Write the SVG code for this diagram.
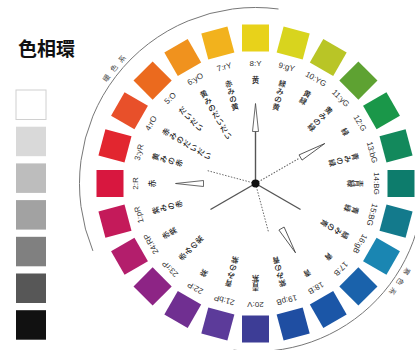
<svg xmlns="http://www.w3.org/2000/svg" width="415" height="350" viewBox="0 0 415 350">
<style>
.num{font-family:"Liberation Sans","Noto Sans",sans-serif;font-size:8px;fill:#333;text-anchor:middle}
.jp{font-family:"Noto Sans CJK JP",sans-serif;font-size:7.5px;font-weight:500;fill:#1a1a1a;text-anchor:middle}
.sys{font-family:"Noto Sans CJK JP",sans-serif;font-size:7px;fill:#444;text-anchor:middle;letter-spacing:5px}
.arc{fill:none;stroke:#777;stroke-width:1}
.needle{fill:#fff;stroke:#444;stroke-width:0.8}
.solid{stroke:#555;stroke-width:1.4}
.dot{stroke:#666;stroke-width:0.9;stroke-dasharray:1.5 1.5}
</style>
<defs>
<path id="warmPath" d="M78.2 152.3 A180 180 0 0 1 193.9 14.4"/>
<path id="coolPath" d="M427 198.5 A172 172 0 0 1 328.2 339.4"/>
<g id="needleShape"><polygon class="needle" points="252.5,131.5 258.5,131.5 255.5,103.5"/></g>
</defs>
<rect width="415" height="350" fill="#fff"/>
<text x="18" y="56" style="font-family:'Noto Sans CJK JP',sans-serif;font-size:19px;font-weight:bold;fill:#111">色相環</text>
<g id="grayscale">
<rect x="16" y="90" width="30" height="29.5" fill="#fff" stroke="#d0d0d0"/>
<rect x="16" y="126.7" width="30" height="29.5" fill="#d9d9d9"/>
<rect x="16" y="163.4" width="30" height="29.5" fill="#bdbdbd"/>
<rect x="16" y="200.1" width="30" height="29.5" fill="#a2a2a2"/>
<rect x="16" y="236.8" width="30" height="29.5" fill="#808080"/>
<rect x="16" y="273.5" width="30" height="29.5" fill="#575757"/>
<rect x="16" y="310.2" width="30" height="29.5" fill="#111"/>
</g>
<g id="arcs">
<path class="arc" d="M92.9 250.9 A176 176 0 0 1 278.5 9.0"/>
<path class="arc" d="M420.9 154.3 A168 168 0 0 1 233.6 350.1"/>
<text class="sys"><textPath href="#warmPath" startOffset="50%">暖色系</textPath></text>
<text class="sys"><textPath href="#coolPath" startOffset="50%">寒色系</textPath></text>
</g>
<g id="hue-1" transform="rotate(-105 255.5 183.5)"><rect x="242" y="24.5" width="27" height="27" fill="#c41a5a"/><text class="num" x="255.5" y="65.5">1:pR</text><text class="jp" x="255.5" y="83"><tspan x="255.5">紫</tspan><tspan x="255.5" dy="8">み</tspan><tspan x="255.5" dy="8">の</tspan><tspan x="255.5" dy="8">赤</tspan></text></g>
<g id="hue-2" transform="rotate(-90 255.5 183.5)"><rect x="242" y="24.5" width="27" height="27" fill="#d8173f"/><text class="num" x="255.5" y="65.5">2:R</text><text class="jp" x="255.5" y="83"><tspan x="255.5">赤</tspan></text></g>
<g id="hue-3" transform="rotate(-75 255.5 183.5)"><rect x="242" y="24.5" width="27" height="27" fill="#e2262f"/><text class="num" x="255.5" y="65.5">3:yR</text><text class="jp" x="255.5" y="83"><tspan x="255.5">黄</tspan><tspan x="255.5" dy="8">み</tspan><tspan x="255.5" dy="8">の</tspan><tspan x="255.5" dy="8">赤</tspan></text></g>
<g id="hue-4" transform="rotate(-60 255.5 183.5)"><rect x="242" y="24.5" width="27" height="27" fill="#e8502a"/><text class="num" x="255.5" y="65.5">4:rO</text><text class="jp" x="255.5" y="83"><tspan x="255.5">赤</tspan><tspan x="255.5" dy="8">み</tspan><tspan x="255.5" dy="8">の</tspan><tspan x="255.5" dy="8">だ</tspan><tspan x="255.5" dy="8">い</tspan><tspan x="255.5" dy="8">だ</tspan><tspan x="255.5" dy="8">い</tspan></text></g>
<g id="hue-5" transform="rotate(-45 255.5 183.5)"><rect x="242" y="24.5" width="27" height="27" fill="#eb6a1e"/><text class="num" x="255.5" y="65.5">5:O</text><text class="jp" x="255.5" y="83"><tspan x="255.5">だ</tspan><tspan x="255.5" dy="8">い</tspan><tspan x="255.5" dy="8">だ</tspan><tspan x="255.5" dy="8">い</tspan></text></g>
<g id="hue-6" transform="rotate(-30 255.5 183.5)"><rect x="242" y="24.5" width="27" height="27" fill="#f0921e"/><text class="num" x="255.5" y="65.5">6:yO</text><text class="jp" x="255.5" y="83"><tspan x="255.5">黄</tspan><tspan x="255.5" dy="8">み</tspan><tspan x="255.5" dy="8">の</tspan><tspan x="255.5" dy="8">だ</tspan><tspan x="255.5" dy="8">い</tspan><tspan x="255.5" dy="8">だ</tspan><tspan x="255.5" dy="8">い</tspan></text></g>
<g id="hue-7" transform="rotate(-15 255.5 183.5)"><rect x="242" y="24.5" width="27" height="27" fill="#f2b21d"/><text class="num" x="255.5" y="65.5">7:rY</text><text class="jp" x="255.5" y="83"><tspan x="255.5">赤</tspan><tspan x="255.5" dy="8">み</tspan><tspan x="255.5" dy="8">の</tspan><tspan x="255.5" dy="8">黄</tspan></text></g>
<g id="hue-8"><rect x="242" y="24.5" width="27" height="27" fill="#e8d21a"/><text class="num" x="255.5" y="65.5">8:Y</text><text class="jp" x="255.5" y="83"><tspan x="255.5">黄</tspan></text></g>
<g id="hue-9" transform="rotate(15 255.5 183.5)"><rect x="242" y="24.5" width="27" height="27" fill="#d8d41e"/><text class="num" x="255.5" y="65.5">9:gY</text><text class="jp" x="255.5" y="83"><tspan x="255.5">緑</tspan><tspan x="255.5" dy="8">み</tspan><tspan x="255.5" dy="8">の</tspan><tspan x="255.5" dy="8">黄</tspan></text></g>
<g id="hue-10" transform="rotate(30 255.5 183.5)"><rect x="242" y="24.5" width="27" height="27" fill="#b9c526"/><text class="num" x="255.5" y="65.5">10:YG</text><text class="jp" x="255.5" y="83"><tspan x="255.5">黄</tspan><tspan x="255.5" dy="8">緑</tspan></text></g>
<g id="hue-11" transform="rotate(45 255.5 183.5)"><rect x="242" y="24.5" width="27" height="27" fill="#5ea232"/><text class="num" x="255.5" y="65.5">11:yG</text><text class="jp" x="255.5" y="83"><tspan x="255.5">黄</tspan><tspan x="255.5" dy="8">み</tspan><tspan x="255.5" dy="8">の</tspan><tspan x="255.5" dy="8">緑</tspan></text></g>
<g id="hue-12" transform="rotate(60 255.5 183.5)"><rect x="242" y="24.5" width="27" height="27" fill="#1a9749"/><text class="num" x="255.5" y="65.5">12:G</text><text class="jp" x="255.5" y="83"><tspan x="255.5">緑</tspan></text></g>
<g id="hue-13" transform="rotate(75 255.5 183.5)"><rect x="242" y="24.5" width="27" height="27" fill="#13895c"/><text class="num" x="255.5" y="65.5">13:bG</text><text class="jp" x="255.5" y="83"><tspan x="255.5">青</tspan><tspan x="255.5" dy="8">み</tspan><tspan x="255.5" dy="8">の</tspan><tspan x="255.5" dy="8">緑</tspan></text></g>
<g id="hue-14" transform="rotate(90 255.5 183.5)"><rect x="242" y="24.5" width="27" height="27" fill="#0d7c6c"/><text class="num" x="255.5" y="65.5">14:BG</text><text class="jp" x="255.5" y="83"><tspan x="255.5">青</tspan><tspan x="255.5" dy="8">緑</tspan></text></g>
<g id="hue-15" transform="rotate(105 255.5 183.5)"><rect x="242" y="24.5" width="27" height="27" fill="#137a8c"/><text class="num" x="255.5" y="65.5">15:BG</text><text class="jp" x="255.5" y="83"><tspan x="255.5">青</tspan><tspan x="255.5" dy="8">緑</tspan></text></g>
<g id="hue-16" transform="rotate(120 255.5 183.5)"><rect x="242" y="24.5" width="27" height="27" fill="#1a86b2"/><text class="num" x="255.5" y="65.5">16:gB</text><text class="jp" x="255.5" y="83"><tspan x="255.5">緑</tspan><tspan x="255.5" dy="8">み</tspan><tspan x="255.5" dy="8">の</tspan><tspan x="255.5" dy="8">青</tspan></text></g>
<g id="hue-17" transform="rotate(135 255.5 183.5)"><rect x="242" y="24.5" width="27" height="27" fill="#1a62ab"/><text class="num" x="255.5" y="65.5">17:B</text><text class="jp" x="255.5" y="83"><tspan x="255.5">青</tspan></text></g>
<g id="hue-18" transform="rotate(150 255.5 183.5)"><rect x="242" y="24.5" width="27" height="27" fill="#1b56a7"/><text class="num" x="255.5" y="65.5">18:B</text><text class="jp" x="255.5" y="83"><tspan x="255.5">青</tspan></text></g>
<g id="hue-19" transform="rotate(165 255.5 183.5)"><rect x="242" y="24.5" width="27" height="27" fill="#1f4ea2"/><text class="num" x="255.5" y="65.5">19:pB</text><text class="jp" x="255.5" y="83"><tspan x="255.5">紫</tspan><tspan x="255.5" dy="8">み</tspan><tspan x="255.5" dy="8">の</tspan><tspan x="255.5" dy="8">青</tspan></text></g>
<g id="hue-20" transform="rotate(180 255.5 183.5)"><rect x="242" y="24.5" width="27" height="27" fill="#3d3d96"/><text class="num" x="255.5" y="65.5">20:V</text><text class="jp" x="255.5" y="83"><tspan x="255.5">青</tspan><tspan x="255.5" dy="8">紫</tspan></text></g>
<g id="hue-21" transform="rotate(195 255.5 183.5)"><rect x="242" y="24.5" width="27" height="27" fill="#5c3b9a"/><text class="num" x="255.5" y="65.5">21:bP</text><text class="jp" x="255.5" y="83"><tspan x="255.5">青</tspan><tspan x="255.5" dy="8">み</tspan><tspan x="255.5" dy="8">の</tspan><tspan x="255.5" dy="8">紫</tspan></text></g>
<g id="hue-22" transform="rotate(210 255.5 183.5)"><rect x="242" y="24.5" width="27" height="27" fill="#702f91"/><text class="num" x="255.5" y="65.5">22:P</text><text class="jp" x="255.5" y="83"><tspan x="255.5">紫</tspan></text></g>
<g id="hue-23" transform="rotate(225 255.5 183.5)"><rect x="242" y="24.5" width="27" height="27" fill="#8d2485"/><text class="num" x="255.5" y="65.5">23:rP</text><text class="jp" x="255.5" y="83"><tspan x="255.5">赤</tspan><tspan x="255.5" dy="8">み</tspan><tspan x="255.5" dy="8">の</tspan><tspan x="255.5" dy="8">紫</tspan></text></g>
<g id="hue-24" transform="rotate(240 255.5 183.5)"><rect x="242" y="24.5" width="27" height="27" fill="#b31e6c"/><text class="num" x="255.5" y="65.5">24:RP</text><text class="jp" x="255.5" y="83"><tspan x="255.5">赤</tspan><tspan x="255.5" dy="8">紫</tspan></text></g>
<g id="connectors">
<line class="solid" x1="255.5" y1="183.5" x2="255.5" y2="131.5"/>
<line class="solid" x1="255.5" y1="183.5" x2="255.5" y2="131.5" transform="rotate(120 255.5 183.5)"/>
<line class="solid" x1="255.5" y1="183.5" x2="255.5" y2="131.5" transform="rotate(240 255.5 183.5)"/>
<line class="dot" x1="255.5" y1="183.5" x2="255.5" y2="133.5" transform="rotate(-75 255.5 183.5)"/>
<line class="dot" x1="255.5" y1="183.5" x2="255.5" y2="133.5" transform="rotate(60 255.5 183.5)"/>
<line class="dot" x1="255.5" y1="183.5" x2="255.5" y2="133.5" transform="rotate(165 255.5 183.5)"/>
<use href="#needleShape"/>
<use href="#needleShape" transform="rotate(-90 255.5 183.5)"/>
<use href="#needleShape" transform="rotate(60 255.5 183.5)"/>
<use href="#needleShape" transform="rotate(150 255.5 183.5)"/>
<circle cx="255.5" cy="183.5" r="4" fill="#111"/>
</g>
</svg>
